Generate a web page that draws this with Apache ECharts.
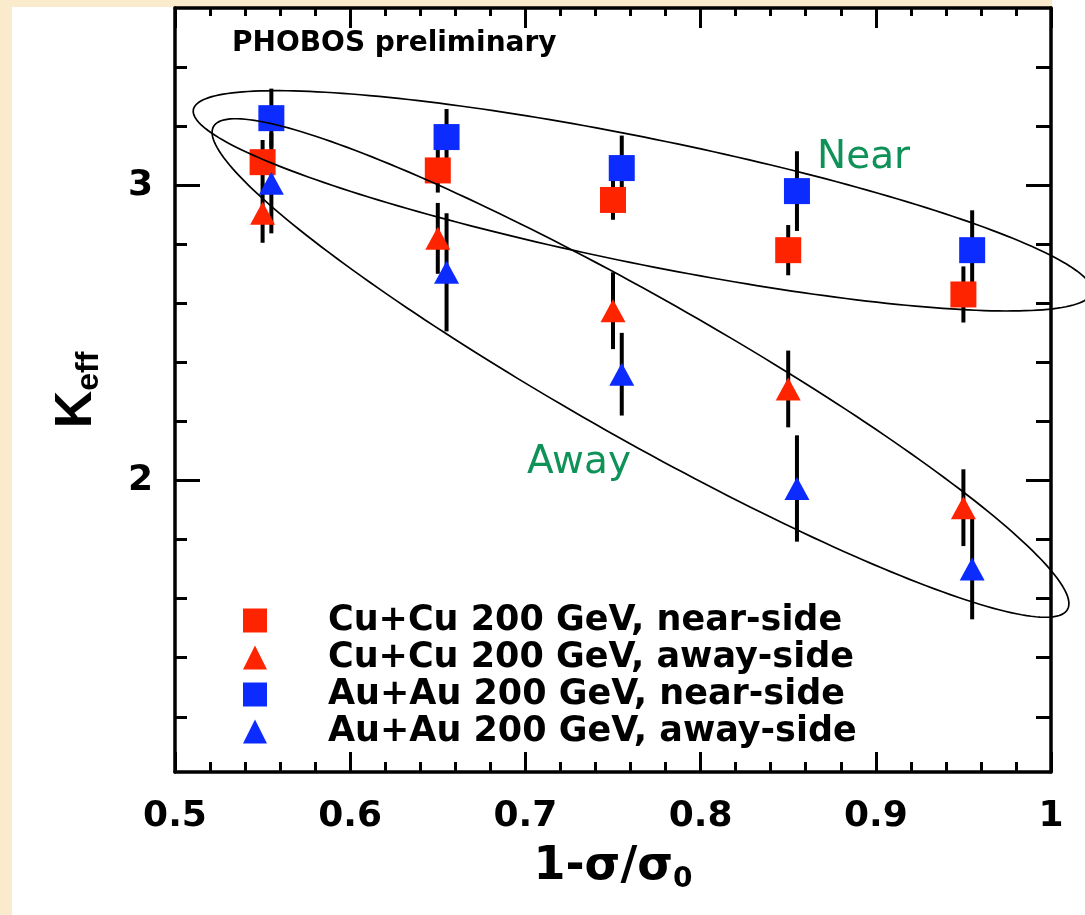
<!DOCTYPE html>
<html><head><meta charset="utf-8">
<script src="https://cdn.jsdelivr.net/npm/echarts@6/dist/echarts.min.js"></script>
<style>html,body{margin:0;padding:0;background:#fff}#c{width:1085px;height:915px}</style>
</head><body><div id="c"></div>
<script>
// ---- data ----
const seriesNames = ['Cu+Cu 200 GeV, near-side','Cu+Cu 200 GeV, away-side','Au+Au 200 GeV, near-side','Au+Au 200 GeV, away-side'];
const cuNearX = [0.55, 0.65, 0.75, 0.85, 0.95];
const cuNearY = [3.078, 3.05, 2.95, 2.78, 2.63];
const cuNearErr = [0.075, 0.075, 0.067, 0.085, 0.095];
const cuAwayX = [0.55, 0.65, 0.75, 0.85, 0.95];
const cuAwayY = [2.905, 2.82, 2.575, 2.31, 1.908];
const cuAwayErr = [0.10, 0.12, 0.13, 0.13, 0.13];
const auNearX = [0.555, 0.655, 0.755, 0.855, 0.955];
const auNearY = [3.227, 3.163, 3.058, 2.98, 2.78];
const auNearErr = [0.10, 0.095, 0.11, 0.135, 0.135];
const auAwayX = [0.555, 0.655, 0.755, 0.855, 0.955];
const auAwayY = [3.007, 2.705, 2.36, 1.973, 1.70];
const auAwayErr = [0.17, 0.20, 0.14, 0.18, 0.17];

const xTickValues = [0.5, 0.6, 0.7, 0.8, 0.9, 1.0];
const xTickLabels = ['0.5', '0.6', '0.7', '0.8', '0.9', '1'];
const yMajorValues = [2, 3];
const yMajorLabels = ['2', '3'];
const yMinorValues = [1.2, 1.4, 1.6, 1.8, 2.2, 2.4, 2.6, 2.8, 3.2, 3.4];

// ellipse annotations: centre, major-axis tip (data units), minor/major ratio
const ellipseCX = [0.7669, 0.7657];
const ellipseCY = [2.947, 2.381];
const ellipseTX = [1.0233, 1.0094];
const ellipseTY = [2.6377, 1.5634];
const ellipseRatio = [0.137, 0.145];

const RED = '#FF2400', BLUE = '#0C2CFF', GREEN = '#0F9258';
const BOLD = {fontFamily: 'DejaVu Sans', fontWeight: 'bold', color: '#000'};

function zip3(a, b, c) { return a.map((v, i) => [v, b[i], c[i]]); }
function zip2(a, b) { return a.map((v, i) => [v, b[i]]); }

function errSeries(x, y, e, z) {
  return {
    type: 'custom', z: z, silent: true, clip: false,
    data: zip3(x, y, e),
    renderItem: (params, api) => {
      const xv = api.value(0), yv = api.value(1), ev = api.value(2);
      const p1 = api.coord([xv, yv - ev]), p2 = api.coord([xv, yv + ev]);
      return {type: 'line', shape: {x1: p1[0], y1: p1[1], x2: p2[0], y2: p2[1]},
              style: {stroke: '#000', lineWidth: 4}};
    }
  };
}
function scat(name, x, y, color, symbol, size, z) {
  return {type: 'scatter', name: name, data: zip2(x, y), symbol: symbol, symbolSize: size,
          itemStyle: {color: color, opacity: 1}, z: z, emphasis: {disabled: true}};
}

const axisLine = {show: true, lineStyle: {color: '#000', width: 3.5}};
const tickStyle = {color: '#000', width: 3};

const option = {
  animation: false,
  backgroundColor: '#fff',
  grid: {left: 175, right: 34, top: 8, bottom: 143},
  xAxis: [{
    type: 'value', min: 0.5, max: 1, interval: 0.1, position: 'bottom',
    axisLine: axisLine,
    axisTick: {inside: true, length: 20, lineStyle: tickStyle},
    minorTick: {show: true, splitNumber: 5, length: 10, lineStyle: tickStyle},
    splitLine: {show: false}, minorSplitLine: {show: false},
    axisLabel: Object.assign({margin: 27, fontSize: 36, showMinLabel: true, showMaxLabel: true,
      formatter: v => { let bi = 0; xTickValues.forEach((t, i) => { if (Math.abs(t - v) < Math.abs(xTickValues[bi] - v)) bi = i; }); return xTickLabels[bi]; }
    }, BOLD),
    name: '{a|1-}{g|σ/σ}{s|0}', nameLocation: 'middle', nameGap: 72,
    nameTextStyle: {rich: {
      a: {fontFamily: 'DejaVu Sans', fontWeight: 'bold', fontSize: 46, color: '#000', lineHeight: 50, verticalAlign: 'top', padding: [0, 0, 12, 0]},
      g: {fontFamily: 'DejaVu Sans', fontWeight: 'bold', fontSize: 46, color: '#000', lineHeight: 50, verticalAlign: 'top', padding: [0, 0, 12, 0]},
      s: {fontFamily: 'DejaVu Sans', fontWeight: 'bold', fontSize: 28, color: '#000', lineHeight: 30, verticalAlign: 'bottom'}
    }}
  }, {
    type: 'value', min: 0.5, max: 1, interval: 0.1, position: 'top',
    axisLine: axisLine,
    axisTick: {inside: true, length: 20, lineStyle: tickStyle},
    minorTick: {show: true, splitNumber: 5, length: 8, lineStyle: tickStyle},
    splitLine: {show: false}, axisLabel: {show: false}
  }],
  yAxis: [{
    type: 'value', min: 1.013, max: 3.6, position: 'left',
    axisLine: axisLine,
    axisTick: {inside: true, length: 12, lineStyle: tickStyle, customValues: yMinorValues},
    axisLabel: {show: false}, splitLine: {show: false}
  }, {
    type: 'value', min: 1.013, max: 3.6, position: 'left',
    axisLine: {show: false},
    axisTick: {inside: true, length: 25, lineStyle: tickStyle, customValues: yMajorValues},
    axisLabel: Object.assign({margin: 22, fontSize: 36, customValues: yMajorValues,
      formatter: v => yMajorLabels[yMajorValues.indexOf(Math.round(v))]}, BOLD),
    splitLine: {show: false},
    name: '{k|K}{s|eff}', nameLocation: 'middle', nameRotate: 90, nameGap: 70,
    nameTextStyle: {rich: {
      k: {fontFamily: 'Liberation Sans', fontWeight: 'bold', fontSize: 52, color: '#000', lineHeight: 54, verticalAlign: 'top', padding: [0, 0, 12, 0]},
      s: {fontFamily: 'Liberation Sans', fontWeight: 'bold', fontSize: 32, color: '#000', lineHeight: 32, verticalAlign: 'bottom'}
    }}
  }, {
    type: 'value', min: 1.013, max: 3.6, position: 'right',
    axisLine: axisLine,
    axisTick: {inside: true, length: 15, lineStyle: tickStyle, customValues: yMinorValues},
    axisLabel: {show: false}, splitLine: {show: false}
  }, {
    type: 'value', min: 1.013, max: 3.6, position: 'right',
    axisLine: {show: false},
    axisTick: {inside: true, length: 25, lineStyle: tickStyle, customValues: yMajorValues},
    axisLabel: {show: false}, splitLine: {show: false}
  }],
  legend: {
    orient: 'vertical', left: 243, top: 602, padding: 0, itemWidth: 24, itemHeight: 24, itemGap: 0,
    selectedMode: false,
    data: [{name: seriesNames[0], icon: 'rect'}, {name: seriesNames[1], icon: 'triangle'},
           {name: seriesNames[2], icon: 'rect'}, {name: seriesNames[3], icon: 'triangle'}],
    textStyle: Object.assign({fontSize: 35, lineHeight: 37, padding: [0, 0, 0, 56]}, BOLD)
  },
  graphic: [
    {type: 'rect', shape: {x: 0, y: 0, width: 12, height: 915}, style: {fill: '#FAEBCC'}, silent: true, z: -10},
    {type: 'rect', shape: {x: 0, y: 0, width: 1052, height: 7}, style: {fill: '#FAEBCC'}, silent: true, z: -10},
    {type: 'text', x: 232, y: 44, silent: true,
     style: {text: 'PHOBOS preliminary', fontFamily: 'DejaVu Sans', fontWeight: 'bold', fontSize: 28, fill: '#000', align: 'left', verticalAlign: 'middle'}},
    {type: 'text', x: 817, y: 158, silent: true,
     style: {text: 'Near', fontFamily: 'DejaVu Sans', fontSize: 39, fill: GREEN, align: 'left', verticalAlign: 'middle'}},
    {type: 'text', x: 527, y: 463, silent: true,
     style: {text: 'Away', fontFamily: 'DejaVu Sans', fontSize: 39, fill: GREEN, align: 'left', verticalAlign: 'middle'}}
  ],
  series: [
    {
      type: 'custom', name: 'ellipses', silent: true, clip: false, z: 20,
      data: ellipseCX.map((v, i) => [v, ellipseCY[i], ellipseTX[i], ellipseTY[i], ellipseRatio[i]]),
      renderItem: (params, api) => {
        const c = api.coord([api.value(0), api.value(1)]);
        const t = api.coord([api.value(2), api.value(3)]);
        const dx = t[0] - c[0], dy = t[1] - c[1];
        const a = Math.hypot(dx, dy), th = Math.atan2(dy, dx), b = a * api.value(4);
        const pts = [];
        for (let i = 0; i < 240; i++) {
          const s = i / 240 * 2 * Math.PI;
          const ex = a * Math.cos(s), ey = b * Math.sin(s);
          pts.push([c[0] + ex * Math.cos(th) - ey * Math.sin(th), c[1] + ex * Math.sin(th) + ey * Math.cos(th)]);
        }
        return {type: 'polygon', shape: {points: pts}, style: {fill: 'none', stroke: '#000', lineWidth: 1.7}};
      }
    },
    errSeries(cuNearX, cuNearY, cuNearErr, 2),
    errSeries(cuAwayX, cuAwayY, cuAwayErr, 2),
    errSeries(auNearX, auNearY, auNearErr, 2),
    errSeries(auAwayX, auAwayY, auAwayErr, 2),
    scat(seriesNames[0], cuNearX, cuNearY, RED, 'rect', 26, 5),
    scat(seriesNames[1], cuAwayX, cuAwayY, RED, 'triangle', [25, 23], 5),
    scat(seriesNames[2], auNearX, auNearY, BLUE, 'rect', 26, 6),
    scat(seriesNames[3], auAwayX, auAwayY, BLUE, 'triangle', [25, 23], 6)
  ]
};
const chart = echarts.init(document.getElementById('c'), null, {renderer: 'canvas'});
chart.setOption(option);
</script>
</body></html>
